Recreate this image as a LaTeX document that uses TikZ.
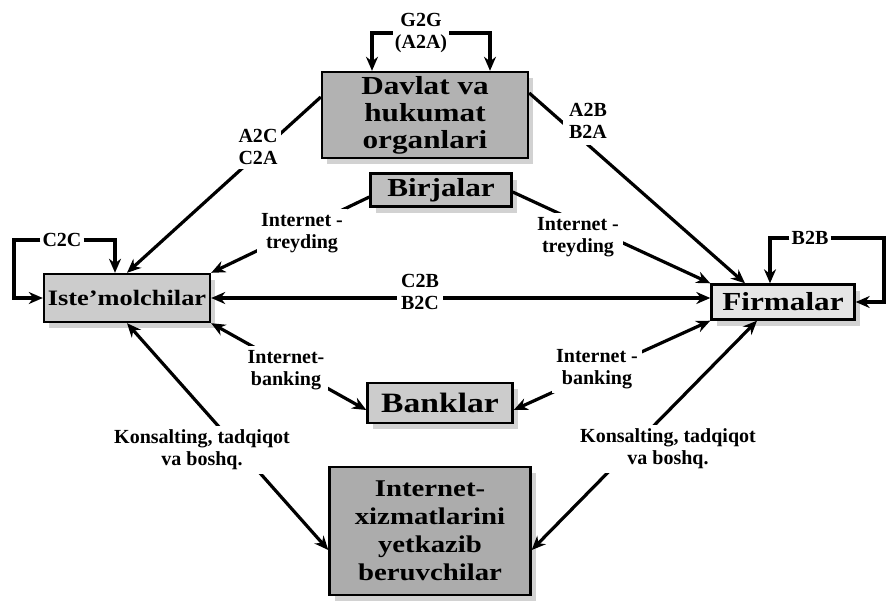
\documentclass[tikz,border=0pt]{standalone}
\usepackage{fontspec}
\setmainfont{Liberation Serif}
\newfontfamily\boxfont[FakeStretch=1.2,Ligatures=TeX]{Liberation Serif}
\usetikzlibrary{arrows.meta,shadows}
\begin{document}
\begin{tikzpicture}[x=1pt,y=-1pt,
  box/.style={draw=black,line width=2.4pt,font=\boxfont\bfseries\fontsize{26}{27}\selectfont,align=center,inner sep=2pt,
    drop shadow={shadow xshift=5pt,shadow yshift=-6pt,fill=gray!35,opacity=1}},
  lbl/.style={font=\bfseries\fontsize{20}{22}\selectfont,align=center,inner sep=2pt},
  lblw/.style={lbl,fill=white,inner sep=4pt},
  conn/.style={line width=3.2pt,-{Stealth[length=14pt,width=12pt]}},
  conn2/.style={line width=3.2pt,{Stealth[length=14pt,width=12pt]}-{Stealth[length=14pt,width=12pt]}}]
\useasboundingbox (0,0) rectangle (888,610);
% boxes
\node[box,fill=gray!60,minimum width=206pt,minimum height=86pt] (dav) at (425,115) {Davlat va\\hukumat\\organlari};
\node[box,fill=gray!50,minimum width=141pt,minimum height=33pt] (bir) at (441,190) {Birjalar};
\node[box,fill=gray!40,minimum width=166pt,minimum height=48pt,font=\boxfont\bfseries\fontsize{22}{25}\selectfont] (ist) at (127,298) {Iste'molchilar};
\node[box,fill=gray!20,minimum width=143pt,minimum height=35pt] (fir) at (783,302) {Firmalar};
\node[box,fill=gray!40,minimum width=145pt,minimum height=40pt,font=\boxfont\bfseries\fontsize{28}{28}\selectfont] (ban) at (440,403) {Banklar};
\node[box,fill=gray!65,minimum width=201pt,minimum height=128pt,font=\boxfont\bfseries\fontsize{24}{28}\selectfont] (xiz) at (430,531) {Internet-\\xizmatlarini\\yetkazib\\beruvchilar};
% loop labels
\node[lbl] (g2g) at (421,33) {G2G\\(A2A)};
\node[lbl] (c2c) at (62,240) {C2C};
\node[lbl] (b2b) at (810,238) {B2B};
% connectors
\draw[conn] (g2g.west) -| ([xshift=-53pt]dav.north);
\draw[conn] (g2g.east) -| ([xshift=65pt]dav.north);
\draw[conn] (c2c.west) -- (14,240) |- (ist.west);
\draw[conn] (c2c.east) -| ([xshift=-12pt]ist.north);
\draw[conn] (b2b.west) -| ([xshift=-13pt]fir.north);
\draw[conn] (b2b.east) -- (884,238) |- (fir.east);
\draw[conn] ([yshift=18pt]dav.west) -- (ist.north);
\draw[conn] ([yshift=22pt]dav.east) -- ([xshift=-38pt]fir.north);
\draw[conn] ([yshift=-7pt]bir.west) -- (ist.north east);
\draw[conn] ([yshift=-2pt]bir.east) -- (fir.north west);
\draw[conn2] (ist.east) -- (ist.east -| fir.west);
\draw[conn2] (ist.south east) -- ([yshift=-7pt]ban.west);
\draw[conn2] ([yshift=-7pt]ban.east) -- (fir.south west);
\draw[conn2] (ist.south) -- ([yshift=-19pt]xiz.west);
\draw[conn2] ([xshift=-26pt]fir.south) -- ([yshift=-19pt]xiz.east);
% connector labels
\node[lblw] (a2c) at (258,147) {A2C\\C2A};
\node[lblw,inner sep=6pt] (a2b) at (588,121) {A2B\\B2A};
\node[lblw] (trl) at (302,233) {Internet -\\treyding};
\node[lblw] (trr) at (578,237) {Internet -\\treyding};
\node[lblw] (c2b) at (420,292) {C2B\\B2C};
\node[lblw] (bal) at (286,370) {Internet-\\banking};
\node[lblw] (bar) at (597,369) {Internet -\\banking};
\node[lblw] (kol) at (202,450) {Konsalting, tadqiqot\\va boshq.};
\node[lblw] (kor) at (668,449) {Konsalting, tadqiqot\\va boshq.};
\end{tikzpicture}
\end{document}
